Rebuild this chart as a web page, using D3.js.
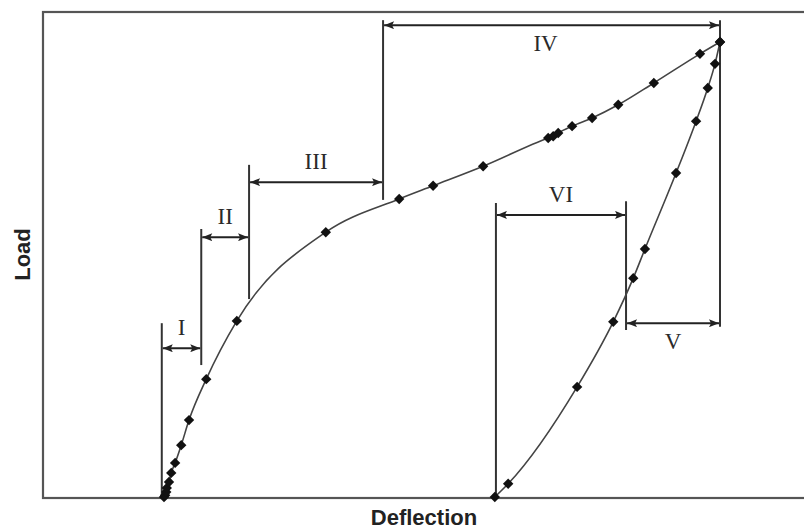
<!DOCTYPE html>
<html>
<head>
<meta charset="utf-8">
<script src="https://cdn.jsdelivr.net/npm/d3@7"></script>
<style>
  html, body { margin: 0; padding: 0; background: #fff; }
  svg { display: block; }
</style>
</head>
<body>
<svg id="chart" width="804" height="531"></svg>
<script>
// Load–deflection response: loading branch and unloading branch (relative units, peak = 100)
const loadDeflection = [0, 0.2, 0.4, 0.5, 0.9, 1.3, 2.0, 3.1, 4.5, 7.6, 13.1, 29.1, 42.3, 48.4, 57.4, 69.1, 70.0, 70.9, 73.4, 77.0, 81.7, 88.1, 96.4, 100];
const loadValues     = [0, 0.4, 1.1, 2.0, 3.3, 5.3, 7.5, 11.4, 16.9, 25.9, 38.7, 58.2, 65.5, 68.4, 72.7, 78.9, 79.3, 80.0, 81.5, 83.3, 86.2, 91.0, 97.4, 100];

const unloadDeflection = [59.5, 61.9, 74.3, 80.8, 84.4, 86.5, 92.1, 95.7, 97.8, 99.1, 100];
const unloadValues     = [0, 2.9, 24.2, 38.5, 48.1, 54.5, 71.2, 82.6, 89.9, 95.2, 100];

// Stage boundaries (deflection) and the load level of each dimension arrow
const stageLabels = ["I", "II", "III", "IV", "V", "VI"];
const stageFrom   = [-0.4, 6.7, 15.3, 39.4, 83.1, 59.7];
const stageTo     = [6.7, 15.3, 39.4, 100, 100, 83.1];
const stageArrowLoad = [32.7, 57.1, 69.2, 103.7, 38.2, 62.0];
const stageLabelSide = ["above", "above", "above", "below", "below", "above"];

// Vertical boundary lines: deflection position, lower and upper load extent
const boundaryAt    = [-0.4, 6.7, 15.3, 39.4, 100, 59.7, 83.1];
const boundaryLow   = [0, 29.0, 43.5, 65.3, 37.4, 0, 36.7];
const boundaryHigh  = [38.2, 58.9, 73.0, 104.8, 104.8, 64.6, 65.0];

const axisTitleX = "Deflection";
const axisTitleY = "Load";

const svg = d3.select("#chart");
const frame = { left: 43, top: 12, bottom: 497, right: 830 };

const x = d3.scaleLinear().domain([0, 100]).range([164, 720]);
const y = d3.scaleLinear().domain([0, 100]).range([497, 42]);

// Arrowhead marker
const defs = svg.append("defs");
defs.append("marker")
  .attr("id", "arrow")
  .attr("viewBox", "0 0 10 8")
  .attr("refX", 10).attr("refY", 4)
  .attr("markerWidth", 11).attr("markerHeight", 8)
  .attr("markerUnits", "userSpaceOnUse")
  .attr("orient", "auto-start-reverse")
  .append("path")
  .attr("d", "M0,0 L10,4 L0,8 L2,4 Z")
  .attr("fill", "#222");

// Plot frame
svg.append("rect")
  .attr("x", frame.left).attr("y", frame.top)
  .attr("width", frame.right - frame.left)
  .attr("height", frame.bottom - frame.top + 1)
  .attr("fill", "none")
  .attr("stroke", "#555")
  .attr("stroke-width", 2.2);

// Boundary lines
svg.append("g").selectAll("line")
  .data(boundaryAt.map((d, i) => ({ d, lo: boundaryLow[i], hi: boundaryHigh[i] })))
  .join("line")
  .attr("x1", d => x(d.d)).attr("x2", d => x(d.d))
  .attr("y1", d => y(d.lo)).attr("y2", d => y(d.hi))
  .attr("stroke", "#333")
  .attr("stroke-width", 2);

// Dimension arrows and stage labels
const stages = stageLabels.map((s, i) => ({
  label: s, from: stageFrom[i], to: stageTo[i], at: stageArrowLoad[i], side: stageLabelSide[i]
}));
const sg = svg.append("g");
sg.selectAll("line")
  .data(stages)
  .join("line")
  .attr("x1", d => x(d.from) + 1).attr("x2", d => x(d.to) - 1)
  .attr("y1", d => y(d.at)).attr("y2", d => y(d.at))
  .attr("stroke", "#222")
  .attr("stroke-width", 2)
  .attr("marker-start", "url(#arrow)")
  .attr("marker-end", "url(#arrow)");
sg.selectAll("text")
  .data(stages)
  .join("text")
  .attr("x", d => (x(d.from) + x(d.to)) / 2 - (d.label === "IV" ? 6 : 0))
  .attr("y", d => d.side === "above" ? y(d.at) - 13 : y(d.at) + 26)
  .attr("text-anchor", "middle")
  .attr("font-family", "'Liberation Serif', 'Times New Roman', serif")
  .attr("font-size", 23)
  .attr("fill", "#2a2a2a")
  .text(d => d.label);

// Curves
const line = d3.line()
  .x(d => x(d[0])).y(d => y(d[1]))
  .curve(d3.curveMonotoneX);
const loading = loadDeflection.map((d, i) => [d, loadValues[i]]);
const unloading = unloadDeflection.map((d, i) => [d, unloadValues[i]]);

[loading, unloading].forEach(series => {
  svg.append("path")
    .datum(series)
    .attr("d", line)
    .attr("fill", "none")
    .attr("stroke", "#444")
    .attr("stroke-width", 1.6);
});

// Diamond markers
const diamond = d3.symbol().type(d3.symbolSquare).size(54);
svg.append("g").selectAll("path")
  .data(loading.concat(unloading))
  .join("path")
  .attr("d", diamond)
  .attr("transform", d => `translate(${x(d[0])},${y(d[1])}) rotate(45)`)
  .attr("fill", "#111");

// Axis titles
svg.append("text")
  .attr("x", 424).attr("y", 525)
  .attr("text-anchor", "middle")
  .attr("font-family", "'Liberation Sans Narrow', 'Arial Narrow', 'Liberation Sans', sans-serif")
  .attr("font-weight", "bold")
  .attr("font-size", 22)
  .attr("fill", "#222")
  .text(axisTitleX);

svg.append("text")
  .attr("transform", `translate(30,${(frame.top + frame.bottom) / 2}) rotate(-90)`)
  .attr("text-anchor", "middle")
  .attr("font-family", "'Liberation Sans Narrow', 'Arial Narrow', 'Liberation Sans', sans-serif")
  .attr("font-weight", "bold")
  .attr("font-size", 22)
  .attr("fill", "#222")
  .text(axisTitleY);
</script>
</body>
</html>
